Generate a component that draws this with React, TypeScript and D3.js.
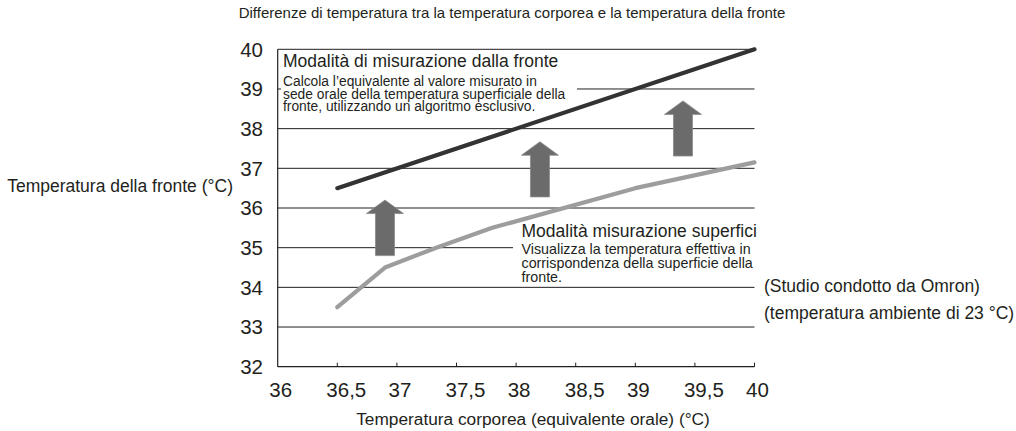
import React from 'react';
import * as d3 from 'd3';

// axis ticks
const xTicks = [36, 36.5, 37, 37.5, 38, 38.5, 39, 39.5, 40];
const xTickLabels = ['36', '36,5', '37', '37,5', '38', '38,5', '39', '39,5', '40'];
const yTicks = [32, 33, 34, 35, 36, 37, 38, 39, 40];

// forehead mode (calculated oral equivalent)
const fronteX = [36.5, 40];
const fronteY = [36.5, 40];

// surface mode (actual forehead temperature)
const superficieX = [36.5, 36.9, 37.33, 37.8, 39, 40];
const superficieY = [33.5, 34.5, 35.0, 35.5, 36.5, 37.15];

// arrows between the two modes
const arrowX = [36.9, 38.2, 39.4];
const arrowFrom = [34.8, 36.28, 37.31];
const arrowTo = [36.2, 37.67, 38.7];

const title = 'Differenze di temperatura tra la temperatura corporea e la temperatura della fronte';
const yTitle = 'Temperatura della fronte (°C)';
const xTitle = 'Temperatura corporea (equivalente orale) (°C)';
const notes = ['(Studio condotto da Omron)', '(temperatura ambiente di 23 °C)'];
const fronteHead = 'Modalità di misurazione dalla fronte';
const fronteBody = [
  'Calcola l’equivalente al valore misurato in',
  'sede orale della temperatura superficiale della',
  'fronte, utilizzando un algoritmo esclusivo.',
];
const superficieHead = 'Modalità misurazione superfici';
const superficieBody = [
  'Visualizza la temperatura effettiva in',
  'corrispondenza della superficie della',
  'fronte.',
];

const font = '"Liberation Sans", Arial, sans-serif';

export default function App() {
  const width = 1016;
  const height = 431;

  const x = d3.scaleLinear().domain([36, 40]).range([277.7, 754.5]);
  const y = d3.scaleLinear().domain([32, 40]).range([366.7, 49.3]);

  const line = d3.line<[number, number]>()
    .x(d => x(d[0]))
    .y(d => y(d[1]));

  const fronte = fronteX.map((v, i) => [v, fronteY[i]] as [number, number]);
  const superficie = superficieX.map((v, i) => [v, superficieY[i]] as [number, number]);

  // block arrow, pointing up
  const arrowPath = (i: number) => {
    const cx = x(arrowX[i]);
    const b = y(arrowFrom[i]);
    const t = y(arrowTo[i]);
    const hw = 18.5, sw = 9.5, hh = 13.5;
    return `M${cx - sw},${b}L${cx - sw},${t + hh}L${cx - hw},${t + hh}L${cx},${t}` +
      `L${cx + hw},${t + hh}L${cx + sw},${t + hh}L${cx + sw},${b}Z`;
  };

  return (
    <svg width={width} height={height} style={{ position: 'absolute', left: 0, top: 0, background: '#fff' }}
      fontFamily={font} fill="#231f20">
      <text x={512} y={18} textAnchor="middle" fontSize={15}>{title}</text>

      {/* grid */}
      {yTicks.slice(1).map(t => (
        <line key={t} x1={x(36)} x2={x(40)} y1={y(t)} y2={y(t)} stroke="#231f20" strokeWidth={1} />
      ))}

      {/* annotation backgrounds */}
      <rect x={281} y={52} width={296} height={63} fill="#fff" />
      <rect x={513} y={222} width={248} height={62} fill="#fff" />

      {/* axes */}
      <line x1={x(36)} x2={x(36)} y1={y(40)} y2={y(32)} stroke="#231f20" strokeWidth={1.2} />
      <line x1={x(36)} x2={x(40)} y1={y(32)} y2={y(32)} stroke="#231f20" strokeWidth={1.2} />
      {xTicks.slice(1).map(t => (
        <line key={t} x1={x(t)} x2={x(t)} y1={y(32)} y2={y(32) - 4} stroke="#231f20" strokeWidth={1} />
      ))}

      {yTicks.map(t => (
        <text key={t} x={263} y={y(t)} dy="0.36em" textAnchor="end" fontSize={20.5}>{t}</text>
      ))}
      {xTicks.map((t, i) => (
        <text key={t} x={x(t) + (xTickLabels[i].length > 2 ? 9 : 3)} y={397} textAnchor="middle" fontSize={20.5}>
          {xTickLabels[i]}
        </text>
      ))}

      <text x={233} y={192} textAnchor="end" fontSize={17.5}>{yTitle}</text>
      <text x={533} y={425} textAnchor="middle" fontSize={17.3}>{xTitle}</text>
      {notes.map((n, i) => (
        <text key={n} x={764} y={292 + i * 27} fontSize={17.5}>{n}</text>
      ))}

      {/* annotations */}
      <text x={283} y={67} fontSize={17.5}>{fronteHead}</text>
      {fronteBody.map((s, i) => (
        <text key={s} x={283} y={86 + i * 12.5} fontSize={13.8}>{s}</text>
      ))}
      <text x={521.5} y={236.5} fontSize={17.5}>{superficieHead}</text>
      {superficieBody.map((s, i) => (
        <text key={s} x={521.5} y={254 + i * 14} fontSize={14.3}>{s}</text>
      ))}

      {/* series */}
      <path d={line(superficie) ?? ''} fill="none" stroke="#9d9d9d" strokeWidth={4.2} strokeLinejoin="round" strokeLinecap="round" />
      <path d={line(fronte) ?? ''} fill="none" stroke="#333333" strokeWidth={4.2} strokeLinecap="round" />

      {arrowX.map((_, i) => (
        <path key={i} d={arrowPath(i)} fill="#6b6b6b" stroke="#8a8a8a" strokeWidth={0.8} />
      ))}
    </svg>
  );
}
